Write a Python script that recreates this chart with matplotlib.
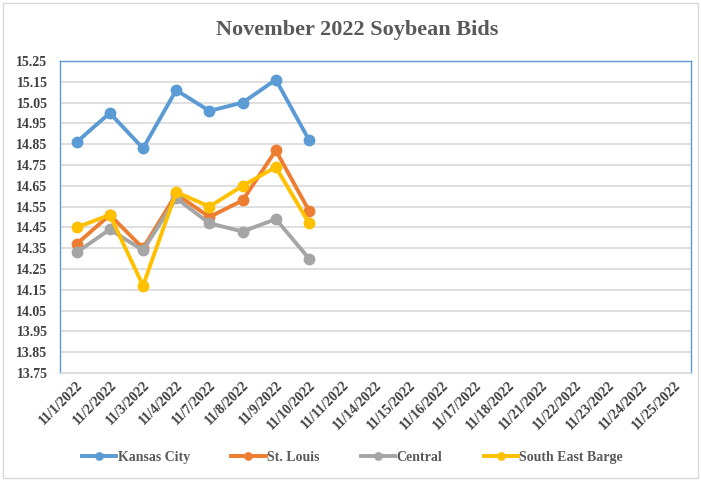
import numpy as np
import matplotlib
matplotlib.use("Agg")
import matplotlib.pyplot as plt
from matplotlib.patches import Rectangle

# trading dates in November 2022
dates = ['11/1/2022', '11/2/2022', '11/3/2022', '11/4/2022', '11/7/2022',
         '11/8/2022', '11/9/2022', '11/10/2022', '11/11/2022', '11/14/2022',
         '11/15/2022', '11/16/2022', '11/17/2022', '11/18/2022', '11/21/2022',
         '11/22/2022', '11/23/2022', '11/24/2022', '11/25/2022']

# bids (only first 8 days filled in)
kansas_city = [14.86, 15.00, 14.83, 15.11, 15.01, 15.05, 15.16, 14.87]
st_louis = [14.37, 14.51, 14.35, 14.61, 14.50, 14.58, 14.82, 14.53]
central = [14.33, 14.44, 14.34, 14.59, 14.47, 14.43, 14.49, 14.30]
se_barge = [14.45, 14.51, 14.17, 14.62, 14.55, 14.65, 14.74, 14.47]

series = [('Kansas City', kansas_city, '#5B9BD5'),
          ('St. Louis', st_louis, '#ED7D31'),
          ('Central', central, '#A5A5A5'),
          ('South East Barge', se_barge, '#FFC000')]

plt.rcParams['font.family'] = ['Liberation Serif', 'DejaVu Serif']

fig = plt.figure(figsize=(7.01, 4.80), dpi=100)
ax = fig.add_axes([0.0856, 0.2229, 0.9, 0.65])

for name, vals, col in series:
    ax.plot(range(len(vals)), vals, color=col, lw=2.8, marker='o', ms=7.5,
            label=name)

ax.set_xlim(-0.5, len(dates) - 0.5)
ax.set_ylim(13.75, 15.25)
ax.set_yticks(np.arange(13.75, 15.26, 0.1))
ax.set_yticklabels(['%.2f' % v for v in np.arange(13.75, 15.26, 0.1)])
ax.set_xticks(range(len(dates)))
ax.set_xticklabels(dates, rotation=45, ha='right', rotation_mode='anchor')
ax.tick_params(length=0, labelsize=10, labelcolor='#404040', pad=4)
for lab in ax.get_xticklabels() + ax.get_yticklabels():
    lab.set_fontweight('bold')
ax.tick_params(axis='y', pad=9)

ax.grid(axis='y', color='#D9D9D9', lw=1.2)
ax.set_axisbelow(True)
for s in ['left', 'top', 'right']:
    ax.spines[s].set_color('#5B9BD5')
    ax.spines[s].set_linewidth(1.0)
ax.spines['bottom'].set_color('#D9D9D9')
ax.spines['bottom'].set_linewidth(1.2)

fig.text(0.51, 0.937, 'November 2022 Soybean Bids', ha='center', va='center',
         fontsize=16, fontweight='bold', color='#595959')

leg = fig.legend(loc='center', bbox_to_anchor=(0.503, 0.047), ncol=4,
                 frameon=False, prop={'weight': 'bold', 'size': 10},
                 handlelength=2.45, columnspacing=3.0, handletextpad=0.1,
                 markerscale=0.7)
for t in leg.get_texts():
    t.set_color('#595959')

# chart area border
fig.patches.append(Rectangle((0.004, 0.004), 0.992, 0.99, transform=fig.transFigure,
                             fill=False, edgecolor='#D9D9D9', lw=1))

fig.savefig('out.png', dpi=100)
